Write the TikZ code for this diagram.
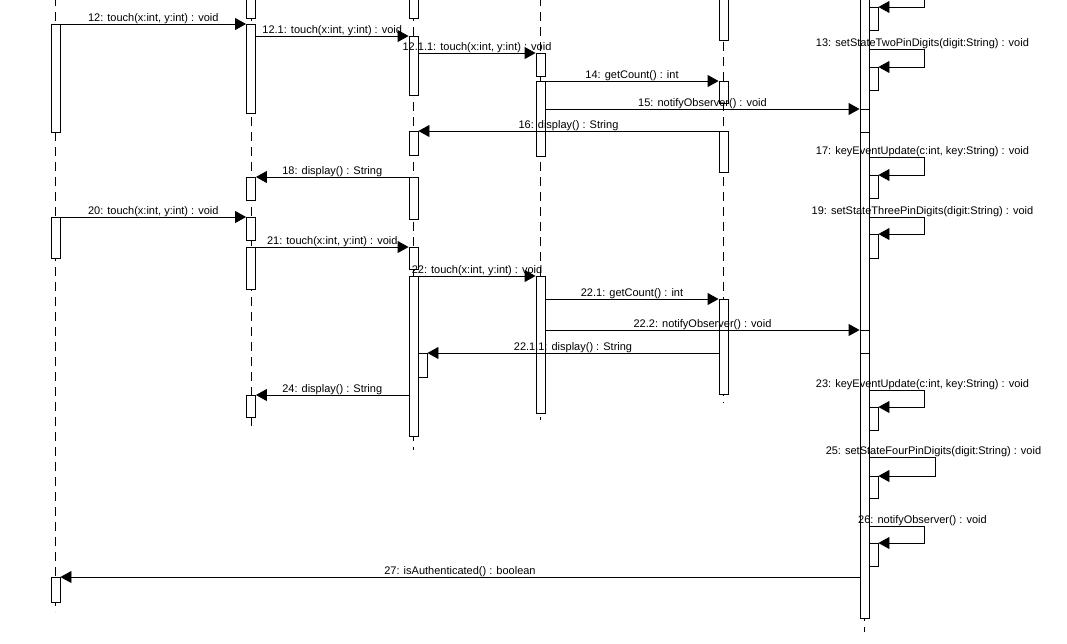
\documentclass[tikz,border=0pt]{standalone}
\usepackage{fontspec}
\setmainfont{Liberation Sans}
\usepackage{tikz}
\usetikzlibrary{
  positioning,
  arrows.meta
}

\begin{document}
\begin{tikzpicture}[
  x=1pt, y=-1pt,
  font=\fontsize{11}{13}\selectfont,
  >={Triangle[length=11pt,width=12pt]},
  life/.style={line width=0.9pt, dash pattern=on 9pt off 6pt},
  act/.style={
    draw,
    fill=white,
    line width=0.9pt,
    anchor=north,
    minimum width=9pt,
    inner sep=0pt,
  },
  msg/.style={->, line width=0.9pt},
  lab/.style={midway, above, inner sep=0pt},
  slab/.style={above, inner sep=0pt, xshift=-2pt},
]
  \clip (0,0) rectangle (1067,643);
  \fill[white] (0,0) rectangle (1067,643);

  \foreach \x/\e in {55.5/612, 251/430, 413.5/450, 540.5/420, 723.5/403, 864.5/632}
    \draw[life] (\x,-3) -- (\x,\e);

  \node[act, minimum height=108pt] (a1) at (55.5,24) {};
  \node[act, minimum height=41pt] (a2) at (55.5,217) {};
  \node[act, minimum height=25pt] (a3) at (55.5,577) {};

  \node[act, minimum height=28pt] (b0) at (251,-10) {};
  \node[act, minimum height=89pt] (b1) at (251,24) {};
  \node[act, minimum height=23pt] (b2) at (251,177) {};
  \node[act, minimum height=23pt] (b3) at (251,217) {};
  \node[act, minimum height=42pt] (b4) at (251,247) {};
  \node[act, minimum height=22pt] (b5) at (251,395) {};

  \node[act, minimum height=28pt] (c0) at (413.5,-10) {};
  \node[act, minimum height=59pt] (c1) at (413.5,36) {};
  \node[act, minimum height=24pt] (c2) at (413.5,131) {};
  \node[act, minimum height=42pt] (c3) at (413.5,177) {};
  \node[act, minimum height=22pt] (c4) at (413.5,247) {};
  \node[act, minimum height=160pt] (c5) at (413.5,276) {};
  \node[act, minimum height=24pt] (c6) at (422.5,353) {};

  \node[act, minimum height=23pt] (d1) at (540.5,53) {};
  \node[act, minimum height=75pt] (d2) at (540.5,81) {};
  \node[act, minimum height=137pt] (d3) at (540.5,276) {};

  \node[act, minimum height=50pt] (e0) at (723.5,-10) {};
  \node[act, minimum height=22pt] (e1) at (723.5,81) {};
  \node[act, minimum height=41pt] (e2) at (723.5,131) {};
  \node[act, minimum height=95pt] (e3) at (723.5,299) {};

  \node[act, minimum height=628pt] (m) at (864.5,-10) {};
  \node[act, minimum height=23pt] (m1) at (864.5,109) {};
  \node[act, minimum height=23pt] (m2) at (864.5,330) {};

  \node[act, minimum height=23pt] (s0) at (873.5,7) {};
  \node[act, minimum height=23pt] (s13) at (873.5,67) {};
  \node[act, minimum height=23pt] (s17) at (873.5,175) {};
  \node[act, minimum height=24pt] (s19) at (873.5,234) {};
  \node[act, minimum height=23pt] (s23) at (873.5,407) {};
  \node[act, minimum height=22pt] (s25) at (873.5,476) {};
  \node[act, minimum height=23pt] (s26) at (873.5,543) {};

  \draw[msg] (a1.north east) -- (b1.north west)
    node[lab] {12: touch(x:int, y:int) : void};
  \draw[msg] (b1.east |- c1.north) -- (c1.north west)
    node[lab] {12.1: touch(x:int, y:int) : void};
  \draw[msg] (c1.east |- d1.north) -- (d1.north west)
    node[lab] {12.1.1: touch(x:int, y:int) : void};
  \draw[msg] (d2.north east) -- (e1.north west)
    node[lab] {14: getCount() : int};
  \draw[msg] (d2.east |- m1.north) -- (m1.north west)
    node[lab] {15: notifyObserver() : void};
  \draw[msg] (e2.north west) -- (c2.north east)
    node[lab] {16: display() : String};
  \draw[msg] (c3.north west) -- (b2.north east)
    node[lab] {18: display() : String};
  \draw[msg] (a2.north east) -- (b3.north west)
    node[lab] {20: touch(x:int, y:int) : void};
  \draw[msg] (b4.north east) -- (c4.north west)
    node[lab] {21: touch(x:int, y:int) : void};
  \draw[msg] (c5.north east) -- (d3.north west)
    node[lab] {22: touch(x:int, y:int) : void};
  \draw[msg] (d3.east |- e3.north) -- (e3.north west)
    node[lab] {22.1: getCount() : int};
  \draw[msg] (d3.east |- m2.north) -- (m2.north west)
    node[lab] {22.2: notifyObserver() : void};
  \draw[msg] (e3.west |- c6.north) -- (c6.north east)
    node[lab] {22.1.1: display() : String};
  \draw[msg] (c5.west |- b5.north) -- (b5.north east)
    node[lab] {24: display() : String};
  \draw[msg] (m.west |- a3.north) -- (a3.north east)
    node[lab] {27: isAuthenticated() : boolean};

  \draw[msg] (m.east |- 0,-11) -- ++(55,0) |- (s0.north east);
  \draw[msg] (m.east |- 0,49) -- ++(55,0)
    node[slab] {13: setStateTwoPinDigits(digit:String) : void} |- (s13.north east);
  \draw[msg] (m.east |- 0,157) -- ++(55,0)
    node[slab] {17: keyEventUpdate(c:int, key:String) : void} |- (s17.north east);
  \draw[msg] (m.east |- 0,217) -- ++(55,0)
    node[slab] {19: setStateThreePinDigits(digit:String) : void} |- (s19.north east);
  \draw[msg] (m.east |- 0,390) -- ++(55,0)
    node[slab] {23: keyEventUpdate(c:int, key:String) : void} |- (s23.north east);
  \draw[msg] (m.east |- 0,457) -- ++(66,0)
    node[slab] {25: setStateFourPinDigits(digit:String) : void} |- (s25.north east);
  \draw[msg] (m.east |- 0,526) -- ++(55,0)
    node[slab] {26: notifyObserver() : void} |- (s26.north east);
\end{tikzpicture}
\end{document}
